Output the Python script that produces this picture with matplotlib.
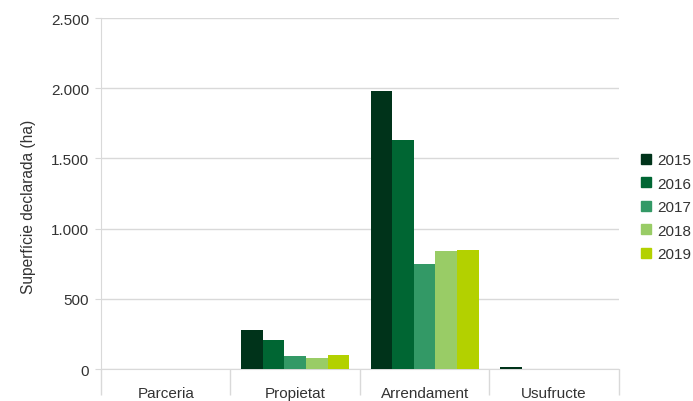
import numpy as np
import matplotlib.pyplot as plt
from matplotlib.ticker import FuncFormatter, FixedLocator
from matplotlib.patches import Patch

plt.rcParams['font.family'] = ['Liberation Sans', 'DejaVu Sans']

# dades
categories = ['Parceria', 'Propietat', 'Arrendament', 'Usufructe']
years = ['2015', '2016', '2017', '2018', '2019']
v2015 = [3, 280, 1980, 12]
v2016 = [2, 210, 1630, 0]
v2017 = [2, 92, 748, 0]
v2018 = [2, 80, 840, 0]
v2019 = [2, 98, 848, 0]
series = [v2015, v2016, v2017, v2018, v2019]
colors = ['#00331a', '#006633', '#339966', '#99cc66', '#b3d100']

fig = plt.figure(figsize=(6.93, 4.02), dpi=100)
ax = fig.add_axes([0.1457, 0.0796, 0.893 - 0.1457, 0.9527 - 0.0796])

x = np.arange(len(categories))
w = 1 / 6
for i, vals in enumerate(series):
    ax.bar(x + (i - 2) * w, vals, width=w, color=colors[i], label=years[i], zorder=3)

ax.set_xlim(-0.5, len(categories) - 0.5)
ax.set_ylim(0, 2500)
ax.set_yticks(np.arange(0, 2501, 500))
ax.yaxis.set_major_formatter(FuncFormatter(lambda v, p: f'{int(v):,}'.replace(',', '.')))
ax.grid(axis='y', color='#d9d9d9', linewidth=1, zorder=0)

# separadors de categoria com a ticks majors
ax.xaxis.set_major_locator(FixedLocator(np.arange(-0.5, len(categories), 1.0)))
ax.xaxis.set_major_formatter(FuncFormatter(lambda v, p: ''))
ax.xaxis.set_minor_locator(FixedLocator(x))
ax.set_xticklabels(categories, minor=True)
ax.tick_params(axis='x', which='major', length=19, color='#d9d9d9', width=1)
ax.tick_params(axis='x', which='minor', length=0, pad=12, labelsize=11, labelcolor='#333333')
ax.tick_params(axis='y', length=4.5, color='#d9d9d9', labelsize=11, labelcolor='#333333', pad=4)

for s in ['top', 'right']:
    ax.spines[s].set_visible(False)
ax.spines['left'].set_color('#d9d9d9')
ax.spines['bottom'].set_color('#d9d9d9')

ax.set_ylabel('Superfície declarada (ha)', fontsize=11.2, color='#333333', labelpad=11, y=0.464)

handles = [Patch(color=c, label=y) for c, y in zip(colors, years)]
fig.legend(handles=handles, loc='center left', bbox_to_anchor=(0.905, 0.482),
           frameon=False, fontsize=11, handlelength=0.65, handleheight=0.65,
           handletextpad=0.45, labelspacing=0.62, labelcolor='#333333')

fig.savefig('out.png', dpi=100)
